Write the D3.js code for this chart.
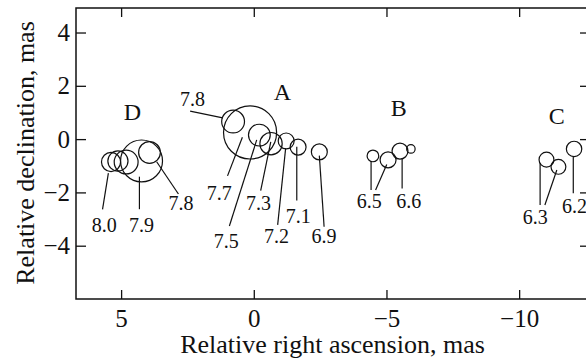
<!DOCTYPE html>
<html>
<head>
<meta charset="utf-8">
<script src="https://cdn.jsdelivr.net/npm/d3@7"></script>
<style>
  html, body { margin: 0; padding: 0; background: #fff; }
  svg { display: block; }
  text { font-family: "Liberation Serif", "Times New Roman", serif; fill: #111; }
</style>
</head>
<body>
<svg id="chart" width="586" height="360"></svg>
<script>
// Jet components: relative right ascension / declination (mas) and size (mas)
const compRA     = [5.38, 5.12, 4.81, 4.23, 3.93,   0.78, 0.14, -0.21, -0.65, -1.22, -1.67, -2.47,   -4.49, -5.06, -5.51, -5.92,   -11.03, -11.48, -12.07];
const compDec    = [-0.86, -0.82, -0.86, -0.82, -0.50,   0.66, 0.25, 0.15, -0.17, -0.07, -0.30, -0.48,   -0.63, -0.78, -0.45, -0.37,   -0.77, -1.04, -0.37];
const compRadius = [0.36, 0.38, 0.45, 0.79, 0.41,   0.43, 1.00, 0.41, 0.42, 0.30, 0.30, 0.30,   0.22, 0.30, 0.30, 0.16,   0.28, 0.28, 0.29];

// Group names
const groupNames = ["D", "A", "B", "C"];
const groupRA    = [4.57, -1.08, -5.46, -11.42];
const groupDec   = [0.72, 1.47, 0.87, 0.56];

// Epoch labels (anchor = text centre, baseline)
const epochText = ["8.0", "7.9", "7.8",   "7.8", "7.7", "7.5", "7.3", "7.2", "7.1", "6.9",   "6.5", "6.6",   "6.3", "6.2"];
const epochRA   = [5.64, 4.23, 2.74,   2.31, 1.30, 1.04, -0.18, -0.86, -1.68, -2.65,   -4.35, -5.84,   -10.61, -12.09];
const epochDec  = [-3.47, -3.47, -2.66,   1.24, -2.27, -4.10, -2.66, -3.91, -3.16, -3.91,   -2.60, -2.60,   -3.19, -2.79];

// Leader lines from components to their epoch labels
const leaderRA1  = [5.48, 4.31, 3.66,   2.40, 0.43, -0.11, -0.64, -1.20, -1.62, -2.47,   -4.42, -5.01, -5.59,   -10.79, -11.42, -12.04];
const leaderDec1 = [-1.28, -1.41, -0.85,   1.05, 0.07, -0.03, -0.10, -0.35, -0.29, -0.62,   -0.85, -0.95, -0.75,   -0.91, -1.16, -0.66];
const leaderRA2  = [5.70, 4.31, 2.84,   1.17, 0.99, 0.92, -0.26, -0.90, -1.62, -2.65,   -4.42, -4.59, -5.59,   -10.79, -10.97, -12.04];
const leaderDec2 = [-2.64, -2.63, -2.06,   0.80, -1.38, -3.26, -1.93, -3.22, -2.30, -3.29,   -1.91, -1.91, -1.85,   -2.47, -2.47, -2.03];

const xTicks = [5, 0, -5, -10];
const yTicks = [4, 2, 0, -2, -4];

const margin = { left: 76, top: 8, right: 590, bottom: 299 };

const svg = d3.select("#chart");

const x = d3.scaleLinear().domain([6.7, -12.67]).range([margin.left, margin.right]);
const y = d3.scaleLinear().domain([4.92, -6.0]).range([margin.top, margin.bottom]);

const fmt = d3.format("");

// Axes with inward ticks
const gBottom = svg.append("g")
  .attr("transform", `translate(0,${margin.bottom})`)
  .call(d3.axisBottom(x).tickValues(xTicks).tickFormat(fmt).tickSizeInner(-9).tickSizeOuter(0).tickPadding(10));
const gTop = svg.append("g")
  .attr("transform", `translate(0,${margin.top})`)
  .call(d3.axisTop(x).tickValues(xTicks).tickFormat("").tickSizeInner(-9).tickSizeOuter(0));
const gLeft = svg.append("g")
  .attr("transform", `translate(${margin.left},0)`)
  .call(d3.axisLeft(y).tickValues(yTicks).tickFormat(fmt).tickSizeInner(-10).tickSizeOuter(0).tickPadding(6));
const gRight = svg.append("g")
  .attr("transform", `translate(${margin.right},0)`)
  .call(d3.axisRight(y).tickValues(yTicks).tickFormat("").tickSizeInner(-10).tickSizeOuter(0));

[gBottom, gTop, gLeft, gRight].forEach(g => {
  g.select(".domain").remove();
  g.selectAll(".tick line").attr("stroke", "#111").attr("stroke-width", 1.3);
  g.selectAll(".tick text").attr("font-size", 25).attr("fill", "#111")
    .style("font-family", "'Liberation Serif', serif");
});

// Frame
svg.append("rect")
  .attr("x", margin.left).attr("y", margin.top)
  .attr("width", margin.right - margin.left).attr("height", margin.bottom - margin.top)
  .attr("fill", "none").attr("stroke", "#111").attr("stroke-width", 1.5);

// Axis titles
svg.append("text")
  .attr("x", 332.5).attr("y", 353)
  .attr("text-anchor", "middle").attr("font-size", 26)
  .text("Relative right ascension, mas");
svg.append("text")
  .attr("transform", "translate(34,153) rotate(-90)")
  .attr("text-anchor", "middle").attr("font-size", 26)
  .text("Relative declination, mas");

// Leader lines
svg.append("g").selectAll("line")
  .data(d3.range(leaderRA1.length))
  .join("line")
  .attr("x1", i => x(leaderRA1[i])).attr("y1", i => y(leaderDec1[i]))
  .attr("x2", i => x(leaderRA2[i])).attr("y2", i => y(leaderDec2[i]))
  .attr("stroke", "#111").attr("stroke-width", 1.2);

// Components
svg.append("g").selectAll("circle")
  .data(d3.range(compRA.length))
  .join("circle")
  .attr("cx", i => x(compRA[i]))
  .attr("cy", i => y(compDec[i]))
  .attr("r", i => Math.abs(x(compRadius[i]) - x(0)))
  .attr("fill", "none").attr("stroke", "#111").attr("stroke-width", 1.2);

// Epoch labels
svg.append("g").selectAll("text")
  .data(d3.range(epochText.length))
  .join("text")
  .attr("x", i => x(epochRA[i])).attr("y", i => y(epochDec[i]))
  .attr("text-anchor", "middle").attr("font-size", 20)
  .text(i => epochText[i]);

// Group names
svg.append("g").selectAll("text")
  .data(d3.range(groupNames.length))
  .join("text")
  .attr("x", i => x(groupRA[i])).attr("y", i => y(groupDec[i]))
  .attr("text-anchor", "middle").attr("font-size", 24)
  .text(i => groupNames[i]);
</script>
</body>
</html>
